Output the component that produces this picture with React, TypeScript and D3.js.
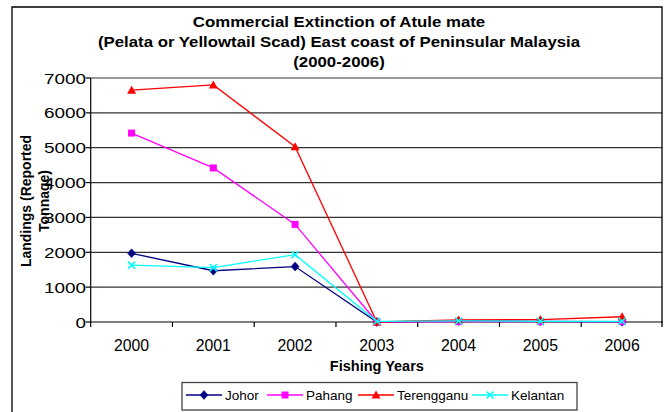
import React from "react";
import * as d3 from "d3";

const years = ["2000", "2001", "2002", "2003", "2004", "2005", "2006"];
const johor = [1970, 1470, 1590, 0, 30, 20, 10];
const pahang = [5420, 4420, 2800, 0, 10, 10, 10];
const terengganu = [6650, 6800, 5030, 0, 60, 70, 150];
const kelantan = [1630, 1560, 1930, 20, 30, 20, 20];
const yTicks = [0, 1000, 2000, 3000, 4000, 5000, 6000, 7000];
const titleLines = [
  "Commercial Extinction of Atule mate",
  "(Pelata or Yellowtail Scad) East coast of Peninsular Malaysia",
  "(2000-2006)",
];
const yTitleLines = ["Landings (Reported", "Tonnage)"];
const xTitle = "Fishing Years";

type Series = { name: string; values: number[]; color: string; marker: string };
const series: Series[] = [
  { name: "Johor", values: johor, color: "#000080", marker: "diamond" },
  { name: "Pahang", values: pahang, color: "#FF00FF", marker: "square" },
  { name: "Terengganu", values: terengganu, color: "#FF0000", marker: "triangle" },
  { name: "Kelantan", values: kelantan, color: "#00FFFF", marker: "x" },
];

const FONT = "'Liberation Sans', Arial, Helvetica, sans-serif";

function Marker({ type, x, y, color }: { type: string; x: number; y: number; color: string }) {
  if (type === "diamond") {
    return <path d={`M${x},${y - 4.5}L${x + 4},${y}L${x},${y + 4.5}L${x - 4},${y}Z`} fill={color} stroke={color} strokeWidth={0.5} />;
  }
  if (type === "square") {
    return <rect x={x - 3.5} y={y - 3.5} width={7} height={7} fill={color} />;
  }
  if (type === "triangle") {
    return <path d={`M${x},${y - 4.5}L${x + 4.5},${y + 3.5}L${x - 4.5},${y + 3.5}Z`} fill={color} />;
  }
  return (
    <path d={`M${x - 3.5},${y - 3.5}L${x + 3.5},${y + 3.5}M${x - 3.5},${y + 3.5}L${x + 3.5},${y - 3.5}`} stroke={color} strokeWidth={1.6} fill="none" />
  );
}

export default function App() {
  const W = 666, H = 412;
  const left = 90.7, right = 663, top = 78, bottom = 322;
  const x = d3.scaleBand<string>().domain(years).range([left, right]).padding(0);
  const y = d3.scaleLinear().domain([0, 7000]).range([bottom, top]);
  const cx = (yr: string) => (x(yr) as number) + x.bandwidth() / 2;
  const line = d3
    .line<number>()
    .x((_, i) => cx(years[i]))
    .y((d) => y(d));

  const legendX = [186, 267, 358, 472];
  const legendY = 395;

  return (
    <svg
      width={W}
      height={H}
      style={{ position: "fixed", left: 0, top: 0, background: "#fff" }}
      fontFamily={FONT}
    >
      <rect x={0} y={0} width={W} height={H} fill="#fff" />
      {/* chart border */}
      <path d={`M12,${H}L12,7L662,7L662,327`} fill="none" stroke="#000" strokeWidth={1.3} />

      {/* title */}
      {titleLines.map((t, i) => (
        <text
          key={i}
          transform={`translate(339,${27 + i * 20}) scale(1.2,1)`}
          textAnchor="middle"
          fontSize={14}
          fontWeight="bold"
          fill="#000"
        >
          {t}
        </text>
      ))}

      {/* gridlines */}
      {yTicks.slice(1).map((t) => (
        <line key={t} x1={left} x2={right} y1={y(t)} y2={y(t)} stroke="#333" strokeWidth={1.2} />
      ))}

      {/* y axis */}
      <line x1={left} x2={left} y1={top} y2={bottom} stroke="#000" strokeWidth={1.2} />
      {yTicks.map((t) => (
        <g key={t}>
          <line x1={left - 5} x2={left} y1={y(t)} y2={y(t)} stroke="#000" strokeWidth={1.2} />
          <text
            transform={`translate(86,${y(t) + 5.5}) scale(1.22,1)`}
            textAnchor="end"
            fontSize={15.5}
            fill="#000"
          >
            {t}
          </text>
        </g>
      ))}

      {/* x axis */}
      <line x1={left} x2={right} y1={bottom} y2={bottom} stroke="#000" strokeWidth={1.2} />
      {years.map((yr) => (
        <line key={"t" + yr} x1={x(yr) as number} x2={x(yr) as number} y1={bottom} y2={bottom + 5} stroke="#000" strokeWidth={1.2} />
      ))}
      {years.map((yr) => (
        <text key={"l" + yr} x={cx(yr)} y={351} textAnchor="middle" fontSize={15.8} fill="#000">
          {yr}
        </text>
      ))}

      {/* axis titles */}
      <text x={(left + right) / 2} y={371} textAnchor="middle" fontSize={14.5} fontWeight="bold" fill="#000">
        {xTitle}
      </text>
      {yTitleLines.map((t, i) => (
        <text
          key={i}
          transform={`translate(${30.5 + i * 18},${(top + bottom) / 2 + 1}) rotate(-90)`}
          textAnchor="middle"
          fontSize={14}
          fontWeight="bold"
          fill="#000"
        >
          {t}
        </text>
      ))}

      {/* series */}
      {series.map((s) => (
        <g key={s.name}>
          <path d={line(s.values) || ""} fill="none" stroke={s.color} strokeWidth={1.3} />
          {s.values.map((v, i) => (
            <Marker key={i} type={s.marker} x={cx(years[i])} y={y(v)} color={s.color} />
          ))}
        </g>
      ))}

      {/* legend */}
      <rect x={182} y={382.5} width={395} height={27.5} fill="#fff" stroke="#444" strokeWidth={1.3} />
      {series.map((s, i) => (
        <g key={"lg" + s.name}>
          <line x1={legendX[i]} x2={legendX[i] + 36} y1={legendY} y2={legendY} stroke={s.color} strokeWidth={1.3} />
          <Marker type={s.marker} x={legendX[i] + 18} y={legendY} color={s.color} />
          <text x={legendX[i] + 39} y={legendY + 5} fontSize={13.5} fill="#000">
            {s.name}
          </text>
        </g>
      ))}
    </svg>
  );
}
